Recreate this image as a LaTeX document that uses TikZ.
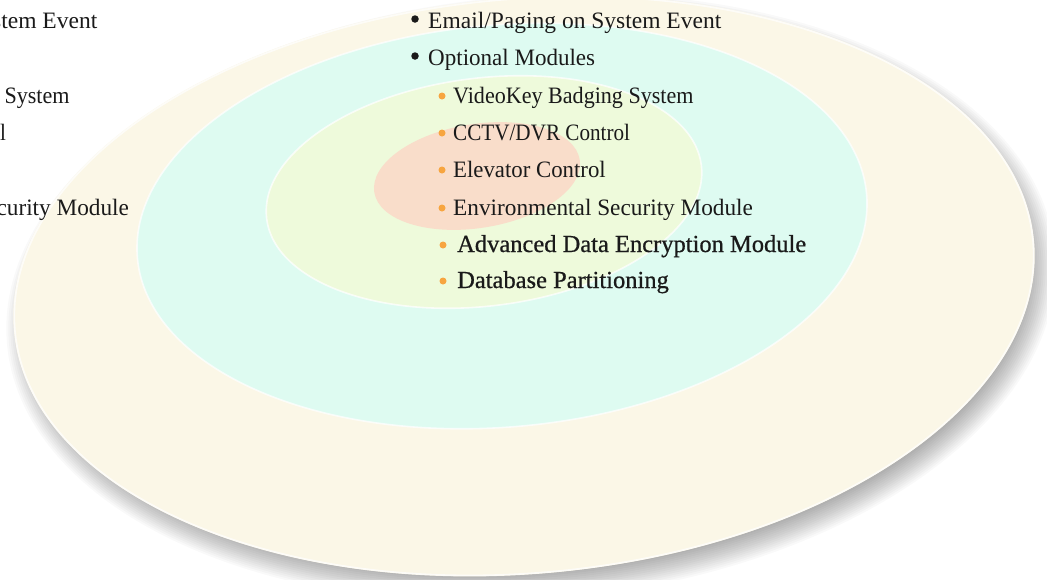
\documentclass[tikz,border=0pt]{standalone}
\usepackage{graphicx}
\usepackage{fontspec}
\setmainfont{Liberation Serif}
\newfontfamily\heavy[FakeBold=0.7]{Liberation Serif}
\definecolor{creamC}{HTML}{FBF7E7}
\definecolor{tealC}{HTML}{DEFBF1}
\definecolor{greenC}{HTML}{EEFADB}
\definecolor{redC}{HTML}{F9DDCA}
\definecolor{dotC}{HTML}{F7A540}
\definecolor{inkC}{HTML}{1A1A1A}
\begin{document}
\begin{tikzpicture}[x=1pt,y=-1pt,
  item/.style={anchor=base west, inner sep=0pt, text=inkC, font=\fontsize{23.5}{28}\selectfont},
  bolditem/.style={anchor=base west, inner sep=0pt, text=inkC, font=\fontsize{24.5}{29}\selectfont\heavy},
  blackdot/.style={circle, fill=inkC, inner sep=0pt, minimum size=7.5pt},
  orangedot/.style={circle, fill=dotC, inner sep=0pt, minimum size=7pt},
  rim/.style={draw=white, draw opacity=0.75, line width=1.6pt}]
\useasboundingbox (0,0) rectangle (1047,579);
\fill[white] (0,0) rectangle (1047,579);
\clip (0,0) rectangle (1047,579);
% soft shadow of the plate
\foreach \r in {-16,-14,...,14} {
  \begin{scope}[shift={(531,298)}, rotate=5]
    \fill[black, opacity=0.022] (0,0) ellipse [x radius={512pt+\r pt}, y radius={288pt+\r pt}];
  \end{scope}
}
% outer cream plate
\begin{scope}[shift={(524,286)}, rotate=5]
  \fill[creamC] (0,0) ellipse [x radius=512pt, y radius=288pt];
  \draw[rim] (0,0) ellipse [x radius=511pt, y radius=287pt];
\end{scope}
% teal ring
\begin{scope}[shift={(502,226)}, rotate=5]
  \fill[tealC] (0,0) ellipse [x radius=366pt, y radius=201pt];
  \draw[rim] (0,0) ellipse [x radius=366pt, y radius=201pt];
\end{scope}
% green ring
\begin{scope}[shift={(484,192)}, rotate=7]
  \fill[greenC] (0,0) ellipse [x radius=219pt, y radius=114pt];
  \draw[rim] (0,0) ellipse [x radius=219pt, y radius=114pt];
\end{scope}
% red core
\begin{scope}[shift={(477,176)}, rotate=9]
  \fill[redC] (0,0) ellipse [x radius=104pt, y radius=52pt];
\end{scope}
% main list
\node[blackdot] (d1) at (415,19) {};
\node[item] (t1) at (428,28) {Email/Paging on System Event};
\node[blackdot] (d2) at (415,56) {};
\node[item] (t2) at (428,65) {\scalebox{0.98}[1]{Optional Modules}};
\node[orangedot] (d3) at (442,96) {};
\node[item] (t3) at (453,103) {\scalebox{0.94}[1]{VideoKey Badging System}};
\node[orangedot] (d4) at (442,133) {};
\node[item] (t4) at (453,140) {\scalebox{0.9}[1]{CCTV/DVR Control}};
\node[orangedot] (d5) at (442,170) {};
\node[item] (t5) at (453,177) {\scalebox{0.97}[1]{Elevator Control}};
\node[orangedot] (d6) at (442,208) {};
\node[item] (t6) at (453,215) {\scalebox{0.99}[1]{Environmental Security Module}};
\node[orangedot] (d7) at (443,245) {};
\node[bolditem] (t7) at (457,252) {Advanced Data Encryption Module};
\node[orangedot] (d8) at (443,281) {};
\node[bolditem] (t8) at (457,288) {Database Partitioning};
% partial copy cut by the left edge
\node[item] (l1) at (-196,28) {Email/Paging on System Event};
\node[item] (l2) at (-196,65) {\scalebox{0.98}[1]{Optional Modules}};
\node[item] (l3) at (-171,103) {\scalebox{0.94}[1]{VideoKey Badging System}};
\node[item] (l4) at (-171,140) {\scalebox{0.9}[1]{CCTV/DVR Control}};
\node[item] (l5) at (-171,177) {\scalebox{0.97}[1]{Elevator Control}};
\node[item] (l6) at (-171,215) {\scalebox{0.99}[1]{Environmental Security Module}};
\end{tikzpicture}
\end{document}
